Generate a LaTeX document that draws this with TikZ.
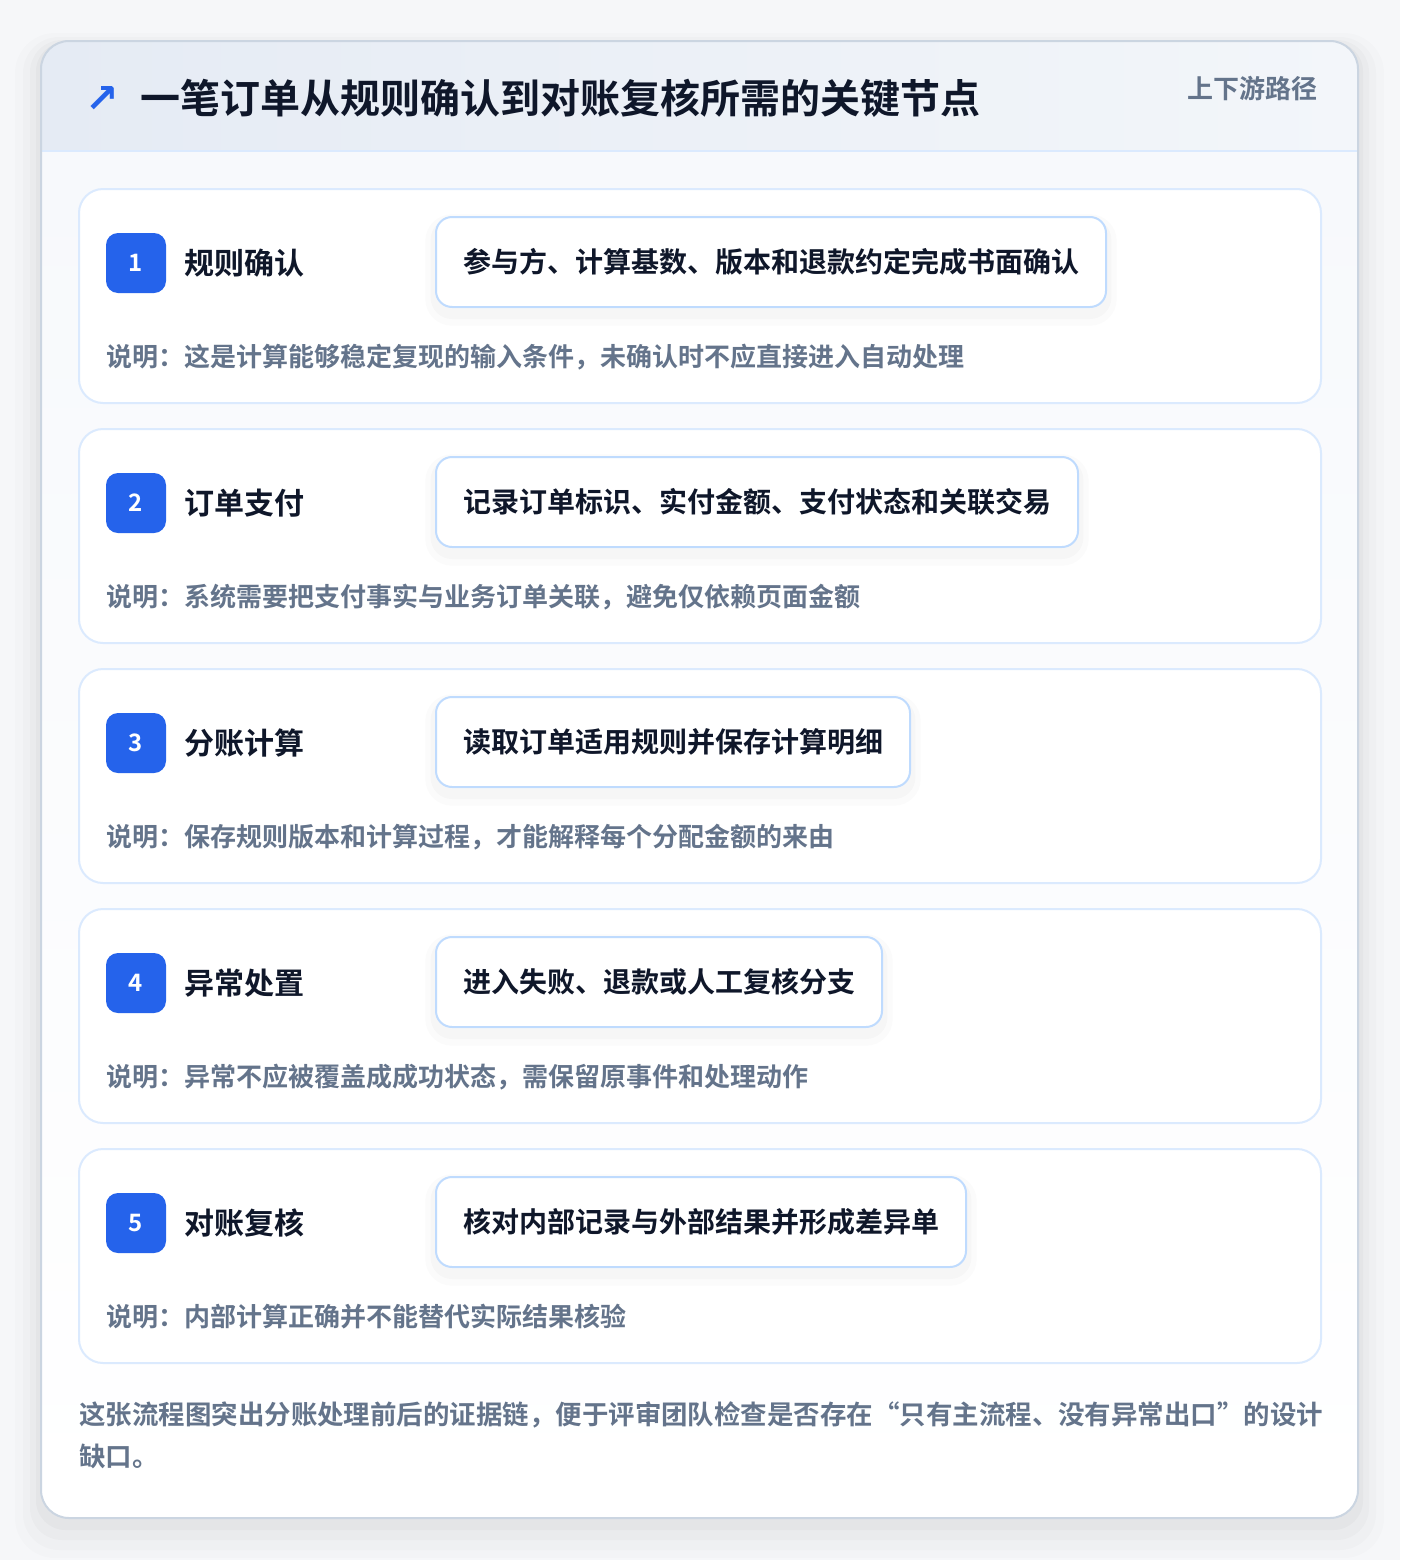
\documentclass[tikz,border=0pt]{standalone}
\usepackage{fontspec}
\setmainfont{Noto Sans CJK SC}[BoldFont={Noto Sans CJK SC Bold}]
\newfontfamily\arrowfont{DejaVu Sans}
\usetikzlibrary{positioning}

\definecolor{pagebg}{HTML}{F6F7F9}
\definecolor{ink}{HTML}{0F172A}
\definecolor{muted}{HTML}{64748B}
\definecolor{accent}{HTML}{2563EB}
\definecolor{outerline}{HTML}{CBD5E1}
\definecolor{cardline}{HTML}{DBEAFE}
\definecolor{boxline}{HTML}{BFDBFE}
\definecolor{headleft}{HTML}{E5EBF4}
\definecolor{headright}{HTML}{F3F6FA}
\definecolor{bodytop}{HTML}{F7F9FC}

\begin{document}
\begin{tikzpicture}[x=0.75pt,y=-0.75pt,
    card/.style={draw=cardline,line width=1.5pt,fill=white,rounded corners=18pt,
                 minimum width=931.5pt,minimum height=160.5pt},
    badge/.style={fill=accent,rounded corners=9pt,minimum size=45pt,inner sep=0pt,
                  text=white,font=\bfseries\fontsize{18}{20}\selectfont},
    step title/.style={anchor=west,inner sep=0pt,text=ink,font=\bfseries\fontsize{22.5}{26}\selectfont},
    action box/.style={anchor=west,draw=boxline,line width=1.5pt,fill=white,rounded corners=12pt,
                 minimum height=67.5pt,inner xsep=20.25pt,text=ink,
                 font=\bfseries\fontsize{21}{24}\selectfont,
                 preaction={draw=black,opacity=0.015,line width=16pt,transform canvas={yshift=-6pt}},
                 preaction={draw=black,opacity=0.02,line width=8pt,transform canvas={yshift=-5pt}}},
    note/.style={anchor=west,inner sep=0pt,text=muted,font=\bfseries\fontsize{19.5}{22}\selectfont}]

  % page and outer card
  \fill[pagebg] (0,0) rectangle (1400,1560);
  \fill[black,opacity=0.012,rounded corners=30pt] (15,33) rectangle (1384,1558);
  \fill[black,opacity=0.015,rounded corners=27pt] (23,37) rectangle (1376,1550);
  \fill[black,opacity=0.02,rounded corners=24pt] (30,40) rectangle (1369,1540);
  \fill[black,opacity=0.025,rounded corners=22pt] (36,42) rectangle (1363,1530);
  \begin{scope}
    \clip[rounded corners=21pt] (41,41) rectangle (1358,1518);
    \shade[top color=bodytop,bottom color=white] (41,151) rectangle (1358,1518);
    \shade[left color=headleft,right color=headright] (41,41) rectangle (1358,151);
  \end{scope}
  \draw[cardline,line width=1.5pt] (41,151) -- (1358,151);
  \draw[outerline,line width=1.5pt,rounded corners=21pt] (41,41) rectangle (1358,1518);

  % header
  \node[text=accent,font=\arrowfont\bfseries\fontsize{30}{32}\selectfont] (icon) at (102,99) {↗};
  \node[anchor=west,inner sep=0pt,text=ink,font=\bfseries\fontsize{30}{34}\selectfont]
    (title) at (140,98) {一笔订单从规则确认到对账复核所需的关键节点};
  \node[anchor=east,inner sep=0pt,text=muted,font=\bfseries\fontsize{19.5}{22}\selectfont]
    (path) at (1318,89) {上下游路径};

  % steps
  \node[card] (card1) at (700,296) {};
  \node[badge] (b1) at (136,263) {1};
  \node[step title] (t1) [right=13.5pt of b1] {规则确认};
  \node[action box] (a1) at (435,262) {参与方、计算基数、版本和退款约定完成书面确认};
  \node[note] (n1) at (106,357) {说明：这是计算能够稳定复现的输入条件，未确认时不应直接进入自动处理};

  \node[card] (card2) at (700,536) {};
  \node[badge] (b2) at (136,503) {2};
  \node[step title] (t2) [right=13.5pt of b2] {订单支付};
  \node[action box] (a2) at (435,502) {记录订单标识、实付金额、支付状态和关联交易};
  \node[note] (n2) at (106,597) {说明：系统需要把支付事实与业务订单关联，避免仅依赖页面金额};

  \node[card] (card3) at (700,776) {};
  \node[badge] (b3) at (136,743) {3};
  \node[step title] (t3) [right=13.5pt of b3] {分账计算};
  \node[action box] (a3) at (435,742) {读取订单适用规则并保存计算明细};
  \node[note] (n3) at (106,837) {说明：保存规则版本和计算过程，才能解释每个分配金额的来由};

  \node[card] (card4) at (700,1016) {};
  \node[badge] (b4) at (136,983) {4};
  \node[step title] (t4) [right=13.5pt of b4] {异常处置};
  \node[action box] (a4) at (435,982) {进入失败、退款或人工复核分支};
  \node[note] (n4) at (106,1077) {说明：异常不应被覆盖成成功状态，需保留原事件和处理动作};

  \node[card] (card5) at (700,1256) {};
  \node[badge] (b5) at (136,1223) {5};
  \node[step title] (t5) [right=13.5pt of b5] {对账复核};
  \node[action box] (a5) at (435,1222) {核对内部记录与外部结果并形成差异单};
  \node[note] (n5) at (106,1317) {说明：内部计算正确并不能替代实际结果核验};

  % closing remark
  \node[note,font=\bfseries\fontsize{19.85}{22}\selectfont] (foot1) at (79,1415)
    {这张流程图突出分账处理前后的证据链，便于评审团队检查是否存在“只有主流程、没有异常出口”的设计};
  \node[note,font=\bfseries\fontsize{19.85}{22}\selectfont] (foot2) at (79,1456) {缺口。};
\end{tikzpicture}
\end{document}
